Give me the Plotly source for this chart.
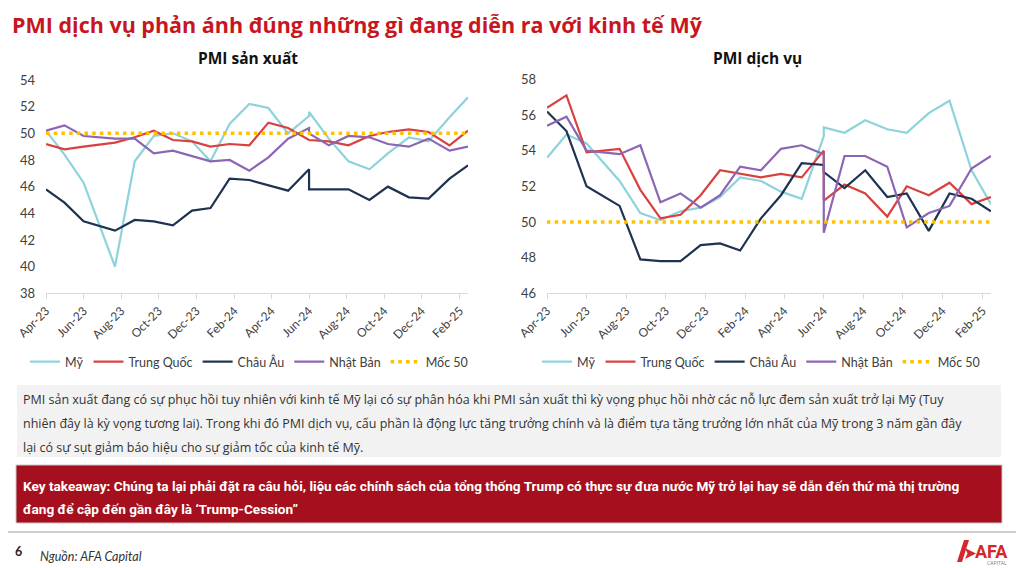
import plotly.graph_objects as go

# ---------------- data ----------------
dates = ["2023-04-01", "2023-05-01", "2023-06-01", "2023-07-22", "2023-08-23", "2023-09-23",
         "2023-10-24", "2023-11-24", "2023-12-24", "2024-01-24", "2024-02-25", "2024-03-27",
         "2024-04-28", "2024-06-01", "2024-06-01", "2024-07-03", "2024-08-04", "2024-09-07",
         "2024-10-07", "2024-11-10", "2024-12-12", "2025-01-15", "2025-02-14"]
tick_dates = ["2023-04-01", "2023-06-01", "2023-08-01", "2023-10-01", "2023-12-01", "2024-02-01",
              "2024-04-01", "2024-06-01", "2024-08-01", "2024-10-01", "2024-12-01", "2025-02-01"]
series_names = ["Mỹ", "Trung Quốc", "Châu Âu", "Nhật Bản"]
threshold_name = "Mốc 50"

mfg_us = [50.2, 48.4, 46.3, 40.0, 47.9, 49.8, 50.0, 49.4, 47.9, 50.7, 52.2, 51.9, 50.0, 51.3, 51.6,
          49.6, 47.9, 47.3, 48.5, 49.7, 49.4, 51.2, 52.7]
mfg_cn = [49.2, 48.8, 49.0, 49.3, 49.7, 50.2, 49.5, 49.4, 49.0, 49.2, 49.1, 50.8, 50.4, 49.5, 49.5,
          49.4, 49.1, 49.8, 50.1, 50.3, 50.1, 49.1, 50.2]
mfg_eu = [45.8, 44.8, 43.4, 42.7, 43.5, 43.4, 43.1, 44.2, 44.4, 46.6, 46.5, 46.1, 45.7, 47.3, 45.8,
          45.8, 45.8, 45.0, 46.0, 45.2, 45.1, 46.6, 47.6]
mfg_jp = [50.2, 50.6, 49.8, 49.6, 49.6, 48.5, 48.7, 48.3, 47.9, 48.0, 47.2, 48.2, 49.6, 50.4, 50.0,
          49.1, 49.8, 49.7, 49.2, 49.0, 49.6, 48.7, 49.0]

svc_us = [53.6, 54.9, 54.4, 52.3, 50.5, 50.1, 50.6, 50.8, 51.4, 52.5, 52.3, 51.7, 51.3, 54.8, 55.3,
          55.0, 55.7, 55.2, 55.0, 56.1, 56.8, 52.9, 51.0]
svc_cn = [56.4, 57.1, 53.9, 54.1, 51.8, 50.2, 50.4, 51.5, 52.9, 52.7, 52.5, 52.7, 52.5, 54.0, 51.2,
          52.1, 51.6, 50.3, 52.0, 51.5, 52.2, 51.0, 51.4]
svc_eu = [56.2, 55.1, 52.0, 50.9, 47.9, 47.8, 47.8, 48.7, 48.8, 48.4, 50.2, 51.5, 53.3, 53.2, 52.8,
          51.9, 52.9, 51.4, 51.6, 49.5, 51.6, 51.3, 50.6]
svc_jp = [55.4, 55.9, 54.0, 53.8, 54.3, 51.1, 51.6, 50.8, 51.5, 53.1, 52.9, 54.1, 54.3, 53.8, 49.4,
          53.7, 53.7, 53.1, 49.7, 50.5, 50.9, 53.0, 53.7]
threshold = [50, 50, 50, 50, 50, 50, 50, 50, 50, 50, 50, 50, 50, 50, 50, 50, 50, 50, 50, 50, 50, 50, 50]

mfg_series = [mfg_us, mfg_cn, mfg_eu, mfg_jp]
svc_series = [svc_us, svc_cn, svc_eu, svc_jp]

# ---------------- styles ----------------
# the page body has an 8px default margin, so the figure is 8px smaller and
# every slide position is expressed in window pixels minus that offset
OFF = 8
W, H = 1024 - OFF, 568 - OFF
colors = ["#8DD3DC", "#D9413E", "#1E3252", "#8C65B4"]
c_thr = "#FFC000"
txt = "#404040"
FONT = "Lato"
HEAD = "Open Sans"


def px(x):
    return (x - OFF) / W


def py(y):
    return 1 - (y - OFF) / H


fig = go.Figure()

for series, xa, ya, lg in [(mfg_series, "x", "y", "legend"), (svc_series, "x2", "y2", "legend2")]:
    for name, vals, col in zip(series_names, series, colors):
        fig.add_trace(go.Scatter(x=dates, y=vals, name=name, mode="lines",
                                 line=dict(color=col, width=2.2),
                                 xaxis=xa, yaxis=ya, legend=lg))
    fig.add_trace(go.Scatter(x=dates, y=threshold, name=threshold_name, mode="lines",
                             line=dict(color=c_thr, width=3.5, dash="3.5px,4.2px"),
                             xaxis=xa, yaxis=ya, legend=lg))

xcommon = dict(type="date", range=[dates[0], dates[-1]], tickvals=tick_dates, tickformat="%b-%y",
               tickangle=-45, ticks="outside", ticklen=5, tickcolor="#D9D9D9", showline=True,
               linecolor="#D9D9D9", linewidth=1, showgrid=False, zeroline=False, automargin=False,
               tickfont=dict(size=12, color=txt, family=FONT))
ycommon = dict(showgrid=False, showline=False, zeroline=False, ticks="", dtick=2, automargin=False,
               tickfont=dict(size=13, color=txt, family=FONT), ticklabelstandoff=10)

legcommon = dict(orientation="h", xanchor="center", yanchor="middle", y=py(362),
                 font=dict(size=12.5, color=txt, family=FONT), bgcolor="rgba(0,0,0,0)",
                 itemwidth=30, tracegroupgap=0)

fig.update_layout(
    width=W, height=H, margin=dict(l=0, r=0, t=0, b=0, autoexpand=False),
    paper_bgcolor="white", plot_bgcolor="white",
    font=dict(family=FONT, color=txt),
    xaxis=dict(domain=[px(46), px(468)], anchor="y", **xcommon),
    yaxis=dict(domain=[py(293.3), py(80)], range=[38, 54], anchor="x", **ycommon),
    xaxis2=dict(domain=[px(547), px(991)], anchor="y2", **xcommon),
    yaxis2=dict(domain=[py(293.3), py(79.3)], range=[46, 58], anchor="x2", **ycommon),
    legend=dict(x=px(249), **legcommon),
    legend2=dict(x=px(761), **legcommon),
)

# ---------------- slide decoration ----------------
shapes = [
    dict(type="rect", xref="paper", yref="paper", x0=px(17), x1=px(1001), y0=py(457), y1=py(385),
         fillcolor="#F2F2F2", line=dict(width=0), layer="below"),
    dict(type="rect", xref="paper", yref="paper", x0=px(16), x1=px(1002), y0=py(523), y1=py(465),
         fillcolor="#A50F1E", line=dict(color="#C9C9C9", width=1), layer="below"),
    dict(type="line", xref="paper", yref="paper", x0=0, x1=1, y0=py(532), y1=py(532),
         line=dict(color="#BFBFBF", width=1.5)),
    # logo mark
    dict(type="path", xref="paper", yref="paper",
         path=f"M {px(957)} {py(562)} L {px(962)} {py(562)} L {px(969)} {py(540)} L {px(964)} {py(540)} Z",
         fillcolor="#D7262B", line=dict(width=0)),
    dict(type="path", xref="paper", yref="paper",
         path=f"M {px(965)} {py(548)} L {px(976)} {py(553.5)} L {px(965)} {py(559)} L {px(967.5)} {py(553.5)} Z",
         fillcolor="#D7262B", line=dict(width=0)),
]

annotations = [
    dict(text="<b>PMI dịch vụ phản ánh đúng những gì đang diễn ra với kinh tế Mỹ</b>",
         x=px(10), y=py(8), xanchor="left", yanchor="top",
         font=dict(size=21.5, color="#C8161E", family=HEAD)),
    dict(text="<b>PMI sản xuất</b>", x=px(248), y=py(58), xanchor="center", yanchor="middle",
         font=dict(size=15.5, color="#111111", family=HEAD)),
    dict(text="<b>PMI dịch vụ</b>", x=px(757), y=py(58), xanchor="center", yanchor="middle",
         font=dict(size=15.5, color="#111111", family=HEAD)),
]

body_lines = [
    "PMI sản xuất đang có sự phục hồi tuy nhiên với kinh tế Mỹ lại có sự phân hóa khi PMI sản xuất thì kỳ vọng phục hồi nhờ các nỗ lực đem sản xuất trở lại Mỹ (Tuy",
    "nhiên đây là kỳ vọng tương lai). Trong khi đó PMI dịch vụ, cấu phần là động lực tăng trưởng chính và là điểm tựa tăng trưởng lớn nhất của Mỹ trong 3 năm gần đây",
    "lại có sự sụt giảm báo hiệu cho sự giảm tốc của kinh tế Mỹ.",
]
for i, line in enumerate(body_lines):
    annotations.append(dict(text=line, x=px(21), y=py(399 + 24 * i), xanchor="left", yanchor="middle",
                            font=dict(size=12.5, color="#333333", family=HEAD)))

key_lines = [
    "Key takeaway: Chúng ta lại phải đặt ra câu hỏi, liệu các chính sách của tổng thống Trump có thực sự đưa nước Mỹ trở lại hay sẽ dẫn đến thứ mà thị trường",
    "đang để cập đến gần đây là ‘Trump-Cession”",
]
for i, line in enumerate(key_lines):
    annotations.append(dict(text=f"<b>{line}</b>", x=px(21), y=py(486 + 23 * i), xanchor="left",
                            yanchor="middle", font=dict(size=13.6, color="white", family="Roboto")))

annotations += [
    dict(text="<b>6</b>", x=px(13), y=py(551), xanchor="left", yanchor="middle",
         font=dict(size=12.5, color="#222222", family=FONT)),
    dict(text="<i>Nguồn: AFA Capital</i>", x=px(38), y=py(556), xanchor="left", yanchor="middle",
         font=dict(size=12.5, color="#333333", family=FONT)),
    dict(text="<b>AFA</b>", x=px(973), y=py(551), xanchor="left", yanchor="middle",
         font=dict(size=18, color="#D7262B", family="Roboto")),
    dict(text="CAPITAL", x=px(997), y=py(563), xanchor="center", yanchor="middle",
         font=dict(size=5, color="#888888", family="Roboto")),
]

for a in annotations:
    a.update(xref="paper", yref="paper", showarrow=False)

fig.update_layout(shapes=shapes, annotations=annotations)

fig.write_html("out.html")
